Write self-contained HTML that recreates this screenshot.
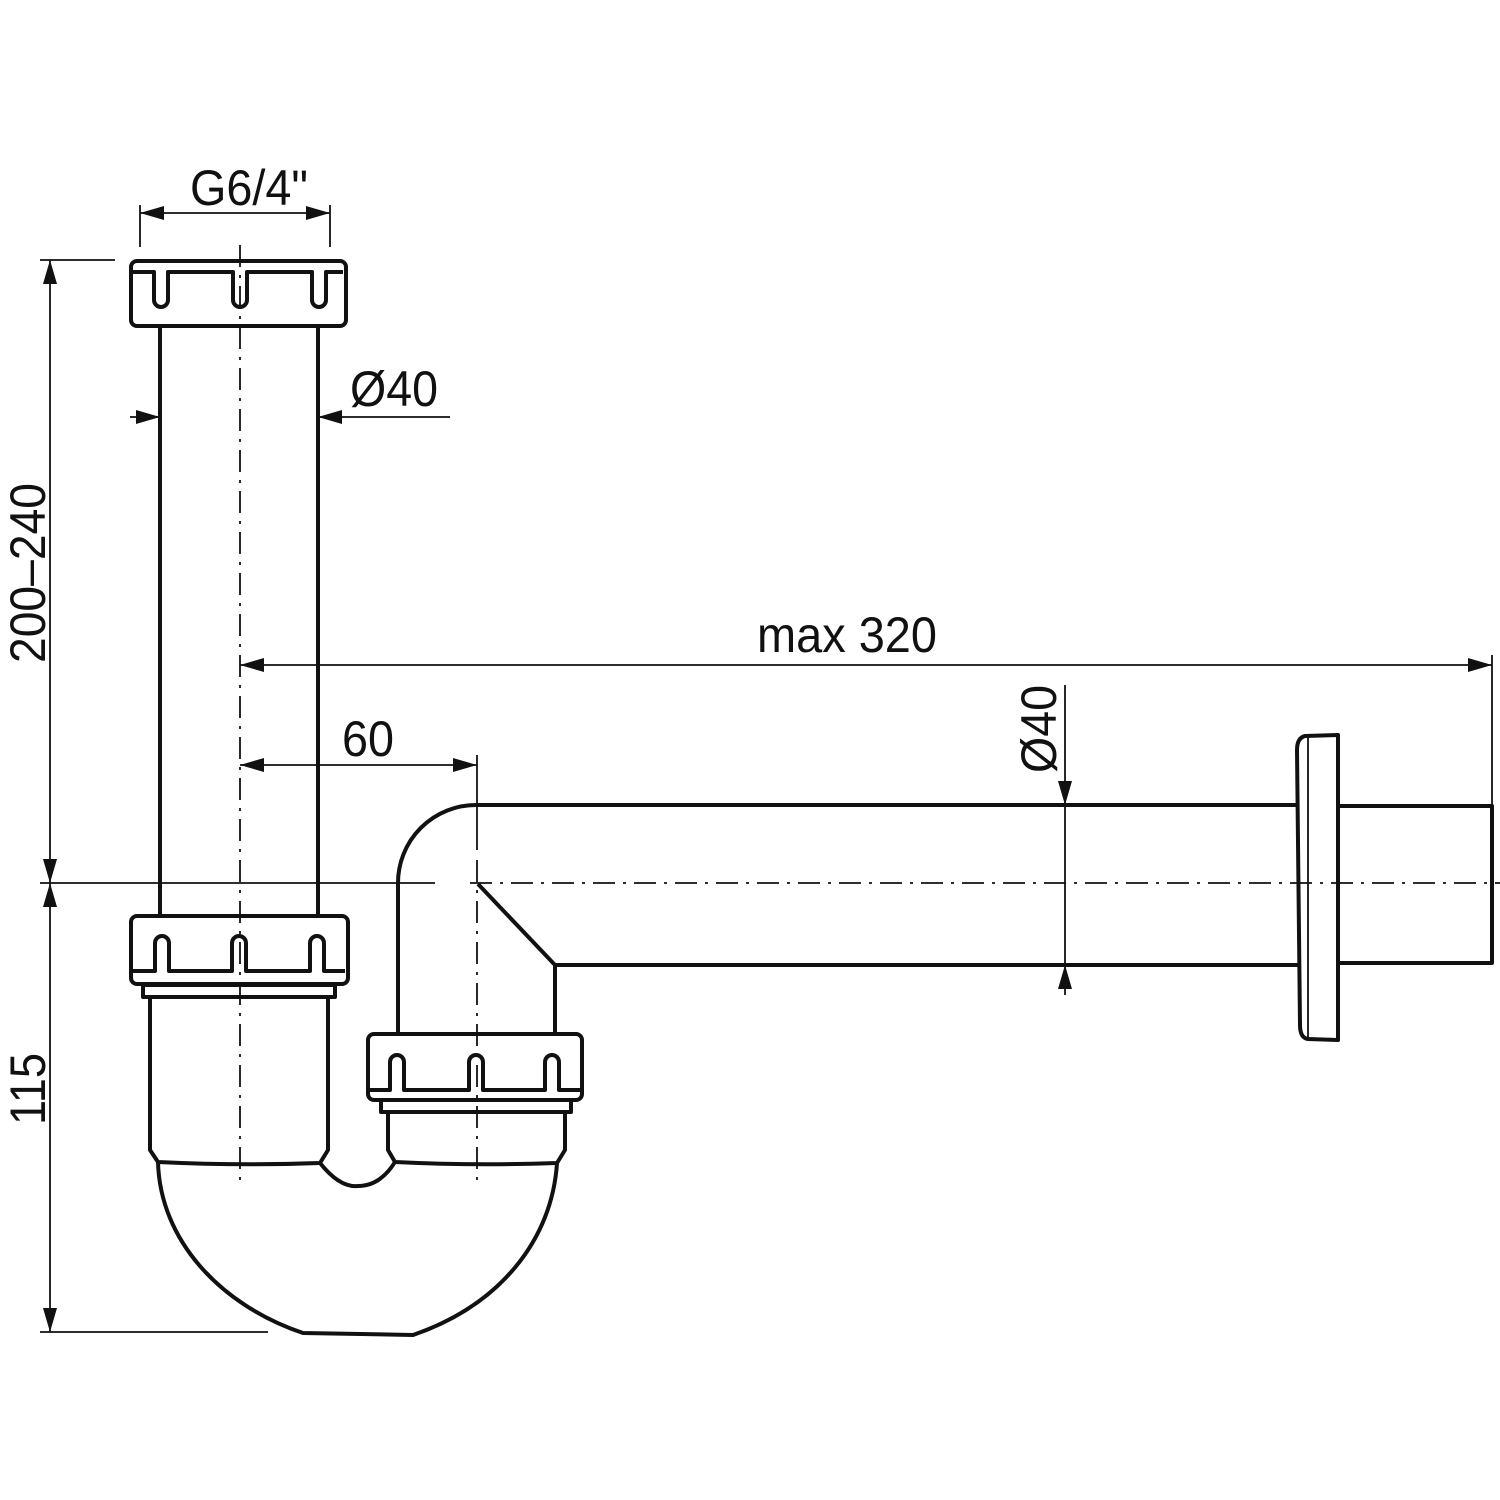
<!DOCTYPE html>
<html><head><meta charset="utf-8"><style>html,body{margin:0;padding:0;background:#fff}svg{display:block}</style></head>
<body>
<svg width="1500" height="1500" viewBox="0 0 1500 1500" xmlns="http://www.w3.org/2000/svg">
<defs>
<marker id="b" markerWidth="24" markerHeight="14" refX="24" refY="7" orient="auto-start-reverse" markerUnits="userSpaceOnUse" viewBox="0 0 24 14"><path d="M0,0 L24,7 L0,14Z" fill="#111"/></marker>
</defs>
<g fill="none" stroke="#111" stroke-width="1.8" stroke-dasharray="22,8,3,8">
<line x1="240" y1="245" x2="240" y2="1180"/>
<line x1="477" y1="860" x2="477" y2="1180"/>
<line x1="470" y1="883" x2="1500" y2="883"/>
</g>
<g fill="none" stroke="#111" stroke-width="1.8">
<line x1="140" y1="205" x2="140" y2="247"/><line x1="330" y1="205" x2="330" y2="247"/>
<line x1="140" y1="213" x2="330" y2="213" marker-start="url(#b)" marker-end="url(#b)"/>
<line x1="130" y1="417" x2="160" y2="417" marker-end="url(#b)"/>
<line x1="450" y1="417" x2="318" y2="417" marker-end="url(#b)"/>
<line x1="40" y1="260" x2="115" y2="260"/><line x1="40" y1="1332" x2="268" y2="1332"/>
<line x1="40" y1="883" x2="435" y2="883"/>
<line x1="50" y1="260" x2="50" y2="883" marker-start="url(#b)" marker-end="url(#b)"/>
<line x1="50" y1="883" x2="50" y2="1332" marker-start="url(#b)" marker-end="url(#b)"/>
<line x1="240" y1="665" x2="1492" y2="665" marker-start="url(#b)" marker-end="url(#b)"/>
<line x1="1492" y1="655" x2="1492" y2="806"/>
<line x1="240" y1="765" x2="477" y2="765" marker-start="url(#b)" marker-end="url(#b)"/>
<line x1="477" y1="755" x2="477" y2="850"/>
<line x1="1065" y1="685" x2="1065" y2="805" marker-end="url(#b)"/>
<line x1="1065" y1="995" x2="1065" y2="965" marker-end="url(#b)"/>
<line x1="1065" y1="805" x2="1065" y2="965"/>
</g>
<g fill="none" stroke="#111" stroke-width="4" stroke-linejoin="round">
<rect x="131" y="261" width="215" height="65" rx="6"/>
<path d="M133,272 H154 V300 A7,7 0 0 0 168,300 V272 H233 V300 A7,7 0 0 0 247,300 V272 H312 V300 A7,7 0 0 0 326,300 V272 H343"/>
<line x1="160" y1="326" x2="160" y2="915"/><line x1="318" y1="326" x2="318" y2="915"/>
<rect x="131" y="916" width="217" height="68" rx="6"/>
<path d="M133,971 H155 V943 A7,7 0 0 1 169,943 V971 H232 V943 A7,7 0 0 1 246,943 V971 H310 V943 A7,7 0 0 1 324,943 V971 H345"/>
<rect x="143" y="985" width="192" height="12"/>
<path d="M150,997 V1150 L158,1162 Q240,1166 320,1163 L328,1150 V997"/>
<rect x="368" y="1034" width="214" height="66" rx="6"/>
<path d="M370,1090 H390 V1062 A7,7 0 0 1 404,1062 V1090 H469 V1062 A7,7 0 0 1 483,1062 V1090 H545 V1062 A7,7 0 0 1 559,1062 V1090 H580"/>
<rect x="381" y="1100" width="190" height="12"/>
<path d="M388,1112 V1150 L395,1162 Q476,1166 557,1163 L565,1150 V1112"/>
<path d="M158,1162 C160,1240 220,1305 303,1333 L413,1335 C500,1305 552,1240 557,1163"/>
<path d="M320,1163 Q340,1188 358,1186 Q380,1186 395,1162"/>
<path d="M398,1034 V883 A78,78 0 0 1 476,805 H1298"/>
<path d="M555,1034 V965 H1298"/>
<line x1="478" y1="884" x2="555" y2="965"/>
<path d="M1338,735 L1305,736 Q1297,738 1297,750 L1300,1025 Q1300,1038 1308,1039 L1338,1040 Z"/>
<line x1="1308" y1="737" x2="1308" y2="1039" stroke-width="1.8"/>
<path d="M1338,806 H1492 V963 H1338"/>
</g>
<g font-family="'Liberation Sans Narrow','Liberation Sans',sans-serif" font-size="50" fill="#111">
<text x="190" y="205" textLength="118" lengthAdjust="spacingAndGlyphs">G6/4"</text>
<text x="350" y="406" textLength="88" lengthAdjust="spacingAndGlyphs">Ø40</text>
<text x="757" y="652" textLength="180" lengthAdjust="spacingAndGlyphs">max 320</text>
<text x="342" y="756" textLength="52" lengthAdjust="spacingAndGlyphs">60</text>
<text transform="translate(45,663) rotate(-90)" textLength="180" lengthAdjust="spacingAndGlyphs">200–240</text>
<text transform="translate(45,1125) rotate(-90)" textLength="72" lengthAdjust="spacingAndGlyphs">115</text>
<text transform="translate(1056,773) rotate(-90)" textLength="88" lengthAdjust="spacingAndGlyphs">Ø40</text>
</g>
</svg>
</body></html>
